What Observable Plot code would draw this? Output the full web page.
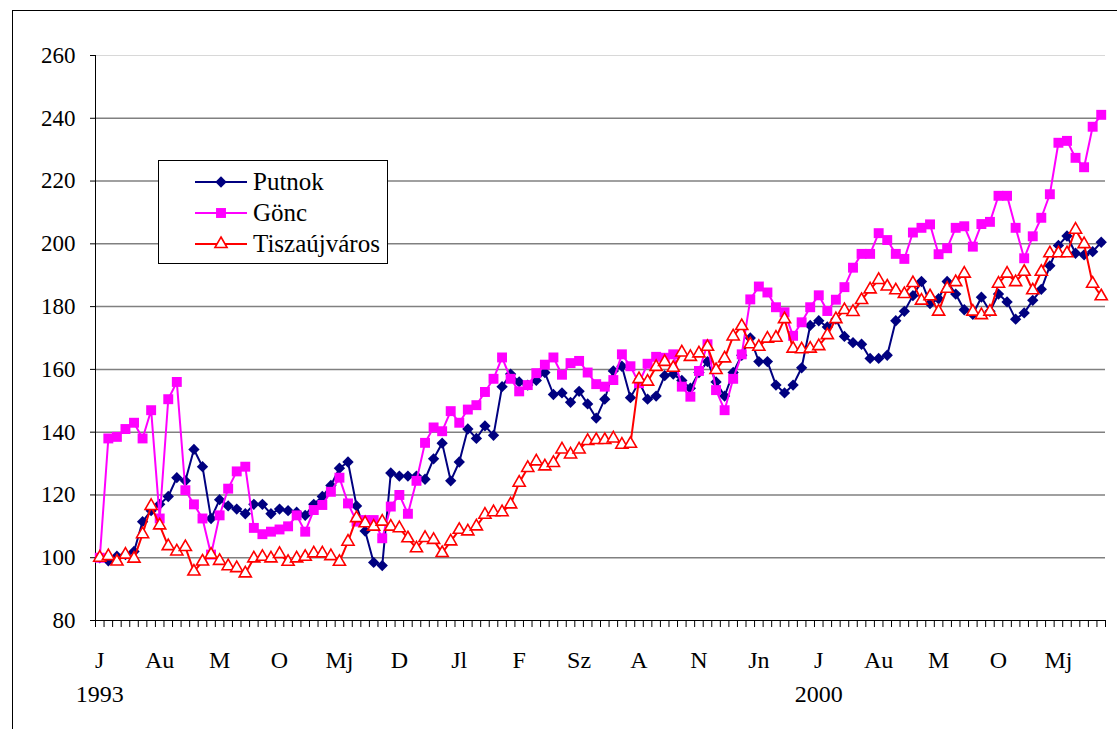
<!DOCTYPE html>
<html>
<head>
<meta charset="utf-8">
<script src="https://cdn.jsdelivr.net/npm/d3@7"></script>
<script src="https://cdn.jsdelivr.net/npm/@observablehq/plot@0.6"></script>
<style>
  body { margin: 0; background: #fff; }
  #wrap { position: relative; width: 1117px; height: 729px; overflow: hidden; font-family: "Liberation Serif", "DejaVu Serif", "Times New Roman", serif; }
  #frame { position: absolute; left: 12px; top: 10px; width: 1200px; height: 800px; border: 1px solid #000; pointer-events: none; }
  #legend { position: absolute; left: 158px; top: 160px; width: 230px; height: 104px; border: 1px solid #000; background: #fff; box-sizing: border-box; }
  #legend .row { position: absolute; left: 36px; height: 30px; display: flex; align-items: center; font-size: 25px; color: #000; font-family: "Liberation Serif", "DejaVu Serif", serif; }
  #legend svg { margin-right: 6px; overflow: visible; }
  svg text { font-family: "Liberation Serif", "DejaVu Serif", serif; }
</style>
</head>
<body>
<div id="wrap">
  <div id="chart"></div>
  <div id="legend"></div>
  <div id="frame"></div>
</div>
<script>
// Monthly index, Jan 1993 ... Oct 2002
const seriesNames = ["Putnok", "Gönc", "Tiszaújváros"];

const putnok = [
  100, 99, 100.5, 101, 102, 111.5, 115, 117, 119.5, 125.5,
  124.5, 134.5, 129, 112.5, 118.5, 116.5, 115.5, 114, 117, 117,
  114, 115.5, 115, 114.5, 113.5, 117, 119.5, 123, 128.5, 130.5,
  116.5, 108.5, 98.5, 97.5, 127, 126, 126, 126, 125, 131.5,
  136.5, 124.5, 130.5, 141, 138, 142, 139, 154.5, 158.5, 156,
  155, 156.5, 159, 152, 152.5, 149.5, 153, 149, 144.5, 150.5,
  159.5, 161, 151, 156, 150.5, 151.5, 158, 158.5, 156.5, 154,
  159, 162.5, 156, 151.5, 159, 164.5, 170, 162.5, 162.5, 155,
  152.5, 155, 160.5, 174, 175.5, 173.5, 176, 170.5, 168.5, 168,
  163.5, 163.5, 164.5, 175.5, 178.5, 183.5, 188, 181, 182.5, 188,
  184, 179, 177.5, 183, 178.5, 184, 181.5, 176, 178, 182,
  185.5, 193, 199.5, 202.5, 197, 196.5, 197.5, 200.5
];

const gonc = [
  100, 138, 138.5, 141, 143, 138, 147, 112.5, 150.5, 156,
  121.5, 117, 112.5, 101, 113.5, 122, 127.5, 129, 109.5, 107.5,
  108.3, 109, 110, 113.5, 108.3, 115.2, 116.8, 121, 125.5, 117.3,
  111.5, 112, 112, 106.2, 116.3, 120, 114, 124.5, 136.6, 141.5,
  140.3, 146.7, 143, 147.2, 148.6, 152.8, 157, 163.8, 157, 153,
  155, 158.8, 161.5, 163.8, 158.3, 162, 162.7, 159, 155.3, 154.5,
  156.6, 164.8, 161, 155.6, 161.8, 164, 163.7, 164.8, 154.5, 151.3,
  159.5, 168, 153.4, 147, 157, 164.8, 182.3, 186.4, 184.5, 179.8,
  178.2, 170.7, 175, 179.8, 183.6, 178.6, 182.2, 186.2, 192.4, 196.8,
  196.8, 203.4, 201.2, 196.8, 195.2, 203.6, 205.1, 206.2, 196.7, 198.6,
  205.1, 205.6, 199.1, 206.3, 207, 215.3, 215.3, 205.1, 195.4, 202.4,
  208.3, 215.8, 232.2, 232.8, 227.4, 224.4, 237.3, 241.1
];

const tisza = [
  100, 100.5, 98.8, 101, 99.7, 107.5, 116.5, 110.3, 103.7, 102,
  103.4, 95.6, 98.8, 101, 99, 97.3, 96.7, 95, 99.8, 100.3,
  99.8, 101.2, 98.7, 99.8, 100.3, 101.4, 101.4, 100.5, 98.7, 105.1,
  112.6, 111, 109.9, 111.5, 109.9, 109.4, 106.2, 103, 106.3, 105.7,
  101.5, 105.2, 108.9, 108.4, 110, 113.7, 114.5, 114.5, 117, 123.9,
  128.6, 130.7, 129.1, 130.2, 134.5, 132.9, 134.5, 137.2, 137.5, 137.5,
  138, 136, 136.3, 156.9, 156.1, 160.8, 162.4, 160.5, 165.4, 164,
  165.1, 167.2, 159.8, 163.5, 170.5, 173.8, 168, 167.2, 169.8, 170.1,
  176, 166.6, 166.4, 166.6, 167.4, 170.9, 176, 178.9, 178.3, 182.1,
  185.5, 188.5, 186.4, 185.2, 184, 187.5, 181.9, 183.3, 178.4, 185.7,
  187.8, 190.5, 178.4, 177.3, 178.4, 187.3, 190.5, 187.8, 191.1, 185.2,
  191.1, 197, 197, 197, 204.5, 199.9, 187.3, 183.3
];

// Category labels every 7 months, starting Jan 1993
const xTickLabels = ["J", "Au", "M", "O", "Mj", "D", "Jl", "F", "Sz", "A", "N", "Jn", "J", "Au", "M", "O", "Mj"];
const xTickStep = 7;
const yearLabels = ["1993", "2000"];
const yearIndex = [0, 84];
const yTicks = [80, 100, 120, 140, 160, 180, 200, 220, 240, 260];

const colors = ["#000080", "#ff00ff", "#ff0000"];
const symbols = ["diamond2", "square", "triangle"];
const fills = ["#000080", "#ff00ff", "#ffffff"];
const radii = [5.1, 5.6, 4.5];

const allValues = [putnok, gonc, tisza];
const n = putnok.length;
const rows = [];
seriesNames.forEach((s, k) => allValues[k].forEach((v, i) => rows.push({series: s, k, i, v})));

const labelIdx = xTickLabels.map((_, j) => j * xTickStep);
const labelMap = new Map(labelIdx.map((d, j) => [d, xTickLabels[j]]));
const yearMap = new Map(yearIndex.map((d, j) => [d, yearLabels[j]]));
const boundaries = d3.range(n + 1).map(i => i - 0.5);

const seriesMarks = [];
seriesNames.forEach((s, k) => {
  const data = rows.filter(r => r.k === k);
  seriesMarks.push(Plot.line(data, {x: "i", y: "v", stroke: colors[k], strokeWidth: 2}));
  seriesMarks.push(Plot.dot(data, {
    x: "i", y: "v", symbol: () => symbols[k], r: radii[k],
    fill: fills[k], stroke: k === 2 ? colors[k] : "none", strokeWidth: 1.6
  }));
});

const serif = "'Liberation Serif', 'DejaVu Serif', serif";
const chart = Plot.plot({
  width: 1117,
  height: 729,
  marginLeft: 95,
  marginRight: 12,
  marginTop: 55,
  marginBottom: 109,
  x: {domain: [-0.5, n - 0.5], axis: null},
  y: {domain: [80, 260], axis: null},
  symbol: {type: "identity"},
  style: {fontFamily: serif, background: "transparent", overflow: "visible", color: "#000"},
  marks: [
    Plot.gridY({ticks: yTicks.slice(1, -1), stroke: "#808080", strokeOpacity: 1, strokeWidth: 1.5}),
    Plot.gridY({ticks: [260], stroke: "#d8d8d8", strokeOpacity: 1, strokeWidth: 1}),
    Plot.ruleY([80], {stroke: "#000", strokeWidth: 1}),
    Plot.ruleX([-0.5], {stroke: "#000", strokeWidth: 1}),
    Plot.axisY({ticks: yTicks, label: null, tickSize: 5, tickPadding: 15, fontSize: 23, fontFamily: serif, tickFormat: d => String(d)}),
    Plot.axisX({ticks: boundaries, label: null, tickSize: 7, tickFormat: () => ""}),
    Plot.axisX({ticks: labelIdx, label: null, tickSize: 0, tickPadding: 30, fontSize: 24, fontFamily: serif, tickFormat: d => labelMap.get(d)}),
    Plot.axisX({ticks: yearIndex, label: null, tickSize: 0, tickPadding: 64, fontSize: 24, fontFamily: serif, tickFormat: d => yearMap.get(d)}),
    ...seriesMarks
  ]
});
document.getElementById("chart").appendChild(chart);

// Legend
const legend = document.getElementById("legend");
const rowTops = [6, 37, 68];
seriesNames.forEach((s, k) => {
  const row = document.createElement("div");
  row.className = "row";
  row.style.top = rowTops[k] + "px";
  const svg = d3.create("svg").attr("width", 52).attr("height", 20);
  svg.append("line").attr("x1", 0).attr("x2", 52).attr("y1", 10).attr("y2", 10)
    .attr("stroke", colors[k]).attr("stroke-width", 2);
  const symType = {diamond2: d3.symbolDiamond2, square: d3.symbolSquare, triangle: d3.symbolTriangle}[symbols[k]];
  svg.append("path").attr("transform", "translate(26,10)")
    .attr("d", d3.symbol(symType, Math.PI * radii[k] * radii[k])())
    .attr("fill", fills[k]).attr("stroke", k === 2 ? colors[k] : "none").attr("stroke-width", 1.6);
  row.appendChild(svg.node());
  const t = document.createElement("span");
  t.textContent = s;
  row.appendChild(t);
  legend.appendChild(row);
});
</script>
</body>
</html>
